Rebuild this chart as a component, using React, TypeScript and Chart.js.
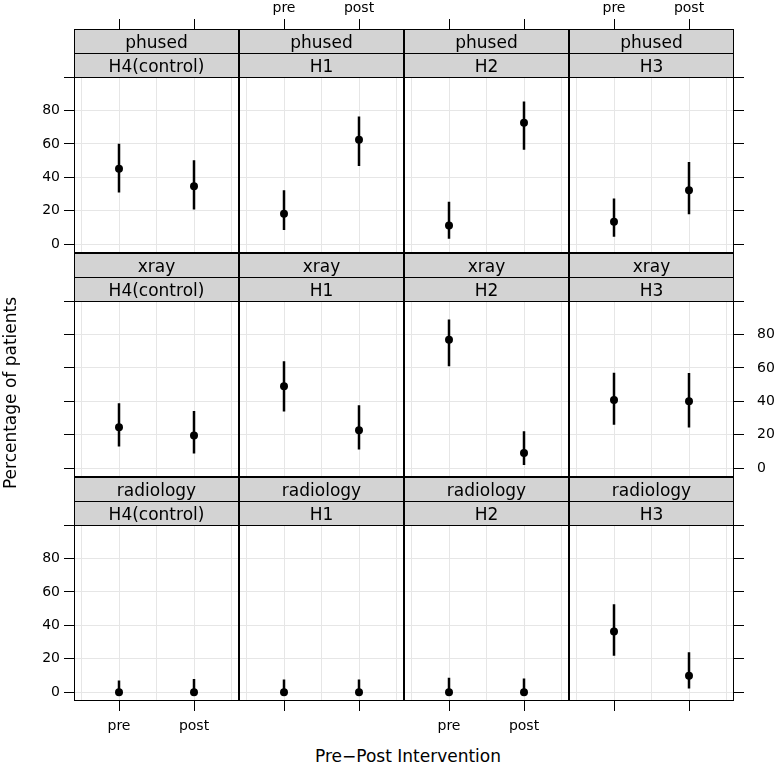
import React, { useEffect, useRef } from 'react';
import { Chart, registerables } from 'chart.js';

Chart.register(...registerables);

// ---- data ----
const methods = ['phused', 'xray', 'radiology'];
const groups = ['H4(control)', 'H1', 'H2', 'H3'];
const phases = ['pre', 'post'];
const phasePos = [1, 2];
const yTickValues = [0, 20, 40, 60, 80, 100];
const xGridValues = [0.5, 1, 1.5, 2, 2.5];

// values ordered: H4 pre, H4 post, H1 pre, H1 post, H2 pre, H2 post, H3 pre, H3 post
const phusedEst = [45.2, 34.7, 18.2, 62.5, 11.3, 72.6, 13.5, 32.3];
const phusedLo = [31.0, 20.8, 8.5, 46.8, 3.3, 56.5, 4.5, 18.0];
const phusedHi = [60.1, 50.2, 32.3, 76.4, 25.4, 85.3, 27.4, 49.2];

const xrayEst = [24.6, 19.6, 49.0, 22.8, 76.8, 9.1, 40.8, 40.1];
const xrayLo = [13.1, 8.9, 33.9, 11.3, 61.0, 2.0, 26.0, 24.4];
const xrayHi = [38.9, 34.3, 64.0, 37.7, 88.9, 22.2, 57.1, 56.9];

const radiologyEst = [0, 0, 0, 0, 0, 0, 36.3, 9.9];
const radiologyLo = [0, 0, 0, 0, 0, 0, 21.8, 2.2];
const radiologyHi = [7.1, 7.9, 7.7, 7.7, 8.7, 8.3, 52.6, 24.0];

const estTable = [phusedEst, xrayEst, radiologyEst];
const loTable = [phusedLo, xrayLo, radiologyLo];
const hiTable = [phusedHi, xrayHi, radiologyHi];

// ---- layout ----
const FONT = 'DejaVu Sans';
const GRID = '#e6e6e6';
const PANEL_W = 165;
const PANEL_H = 176;
const STRIP_H = 24;
const PANEL_X0 = 74;
const STRIP_Y0 = 29;
const ROW_PITCH = 224;
const LEFT_AXIS = 74;
const RIGHT_AXIS = 41;
const TOP_AXIS = 29;
const BOTTOM_AXIS = 40;

function geometry(r: number, c: number) {
  const L = c === 0 ? LEFT_AXIS : 0;
  const R = c === 3 ? RIGHT_AXIS : 0;
  const T = 2 * STRIP_H + (r === 0 ? TOP_AXIS : 0);
  const B = r === 2 ? BOTTOM_AXIS : 0;
  const panelLeft = PANEL_X0 + c * PANEL_W;
  const panelTop = STRIP_Y0 + r * ROW_PITCH + 2 * STRIP_H;
  return {
    left: panelLeft - L,
    top: panelTop - T,
    width: PANEL_W + L + R,
    height: PANEL_H + T + B,
  };
}

function buildConfig(r: number, c: number): any {
  const est = estTable[r];
  const lo = loTable[r];
  const hi = hiTable[r];
  const showXLabels = (r === 0 && c % 2 === 1) || (r === 2 && c % 2 === 0);
  const showYLabels = (c === 0 && r % 2 === 0) || (c === 3 && r % 2 === 1);
  const xOuter = r !== 1;
  const yOuter = c === 0 || c === 3;

  const errData: any[] = [];
  phases.forEach((_, k) => {
    const i = c * 2 + k;
    errData.push({ x: phasePos[k], y: lo[i] });
    errData.push({ x: phasePos[k], y: hi[i] });
    errData.push({ x: phasePos[k] + 0.5, y: null });
  });
  const ptData = phases.map((_, k) => ({ x: phasePos[k], y: est[c * 2 + k] }));

  const stripLabels = [methods[r], groups[c]];

  const panelPlugin = {
    id: 'panelDecor',
    afterDatasetsDraw(chart: any) {
      const { ctx, chartArea } = chart;
      const { left, right, top, bottom } = chartArea;
      ctx.save();
      ctx.strokeStyle = '#000';
      ctx.lineWidth = 1;
      ctx.strokeRect(left + 0.5, top + 0.5, right - left - 1, bottom - top - 1);
      ctx.restore();
    },
    afterDraw(chart: any) {
      const { ctx, chartArea } = chart;
      const { left, right, top } = chartArea;
      const w = right - left;
      ctx.save();
      stripLabels.forEach((lab, i) => {
        const y0 = top - 2 * STRIP_H + i * STRIP_H;
        ctx.fillStyle = '#d3d3d3';
        ctx.fillRect(left, y0, w, STRIP_H);
        ctx.strokeStyle = '#000';
        ctx.lineWidth = 1;
        ctx.strokeRect(left + 0.5, y0 + 0.5, w - 1, STRIP_H);
        ctx.fillStyle = '#000';
        ctx.font = `17px "${FONT}"`;
        ctx.textAlign = 'center';
        ctx.textBaseline = 'alphabetic';
        ctx.fillText(lab, (left + right) / 2, y0 + 19.3);
      });
      ctx.restore();
    },
  };

  return {
    type: 'scatter',
    data: {
      datasets: [
        {
          data: ptData,
          pointRadius: 4,
          pointBackgroundColor: '#000',
          pointBorderWidth: 0,
          borderColor: '#000',
          backgroundColor: '#000',
          order: 1,
        },
        {
          data: errData,
          showLine: true,
          spanGaps: false,
          pointRadius: 0,
          borderColor: '#000',
          borderWidth: 2.5,
          borderCapStyle: 'butt',
          order: 2,
        },
      ],
    },
    options: {
      animation: false,
      responsive: false,
      devicePixelRatio: 1,
      events: [],
      layout: { padding: 0, autoPadding: false },
      plugins: {
        legend: { display: false },
        tooltip: { enabled: false },
        title: {
          display: true,
          text: '',
          padding: { top: 2 * STRIP_H, bottom: 0 },
          font: { size: 1, lineHeight: '0px' },
        },
      },
      scales: {
        x: {
          type: 'linear',
          min: 0.4,
          max: 2.6,
          bounds: 'data',
          position: r === 0 ? 'top' : 'bottom',
          weight: 3000,
          afterBuildTicks: (s: any) => {
            s.ticks = xGridValues.map((v) => ({ value: v }));
          },
          afterFit: (s: any) => {
            s.height = r === 0 ? TOP_AXIS : r === 2 ? BOTTOM_AXIS : 0;
            s.paddingLeft = 0;
            s.paddingRight = 0;
          },
          grid: {
            color: GRID,
            lineWidth: 1,
            drawTicks: xOuter,
            tickLength: 10,
            tickWidth: 1,
            tickColor: (ctx: any) =>
              ctx.tick && Number.isInteger(ctx.tick.value) ? '#000' : 'rgba(0,0,0,0)',
          },
          border: { display: false },
          ticks: {
            display: xOuter,
            autoSkip: false,
            maxRotation: 0,
            padding: r === 0 ? 2 : 7,
            color: '#000',
            font: { family: FONT, size: 14 },
            callback: (v: any) => {
              if (!showXLabels) return '';
              const k = phasePos.indexOf(Number(v));
              return k >= 0 ? phases[k] : '';
            },
          },
        },
        y: {
          type: 'linear',
          min: -5.2,
          max: 100,
          bounds: 'data',
          position: c === 3 ? 'right' : 'left',
          afterBuildTicks: (s: any) => {
            s.ticks = yTickValues.map((v) => ({ value: v }));
          },
          afterFit: (s: any) => {
            s.width = c === 0 ? LEFT_AXIS : c === 3 ? RIGHT_AXIS : 0;
            s.paddingTop = 0;
            s.paddingBottom = 0;
          },
          grid: {
            color: GRID,
            lineWidth: 1,
            drawTicks: yOuter,
            tickLength: 10,
            tickWidth: 1,
            tickColor: '#000',
          },
          border: { display: false },
          ticks: {
            display: yOuter,
            autoSkip: false,
            padding: c === 0 ? 4 : 13,
            color: '#000',
            font: { family: FONT, size: 14 },
            callback: (v: any) => (showYLabels && Number(v) !== 100 ? String(v) : ''),
          },
        },
      },
    },
    plugins: [panelPlugin],
  };
}

function Panel({ r, c }: { r: number; c: number }) {
  const ref = useRef<HTMLCanvasElement>(null);
  const g = geometry(r, c);
  useEffect(() => {
    if (!ref.current) return;
    const chart = new Chart(ref.current, buildConfig(r, c));
    return () => chart.destroy();
  }, [r, c]);
  return (
    <canvas
      ref={ref}
      width={g.width}
      height={g.height}
      style={{ position: 'absolute', left: g.left, top: g.top, width: g.width, height: g.height, display: 'block' }}
    />
  );
}

export default function App() {
  const panels: JSX.Element[] = [];
  methods.forEach((_, r) => {
    groups.forEach((_, c) => {
      panels.push(<Panel key={`${r}-${c}`} r={r} c={c} />);
    });
  });
  return (
    <div
      style={{
        position: 'absolute',
        left: 0,
        top: 0,
        width: 775,
        height: 764,
        overflow: 'hidden',
        background: '#fff',
        fontFamily: FONT,
      }}
    >
      {panels}
      <div
        style={{
          position: 'absolute',
          left: 408 - 200,
          top: 746,
          width: 400,
          height: 20,
          lineHeight: '20px',
          fontSize: 17,
          textAlign: 'center',
          color: '#000',
          whiteSpace: 'nowrap',
        }}
      >
        Pre−Post Intervention
      </div>
      <div
        style={{
          position: 'absolute',
          left: 10 - 200,
          top: 393 - 10,
          width: 400,
          height: 20,
          lineHeight: '20px',
          fontSize: 17,
          textAlign: 'center',
          color: '#000',
          whiteSpace: 'nowrap',
          transform: 'rotate(-90deg)',
          transformOrigin: '50% 50%',
        }}
      >
        Percentage of patients
      </div>
    </div>
  );
}
